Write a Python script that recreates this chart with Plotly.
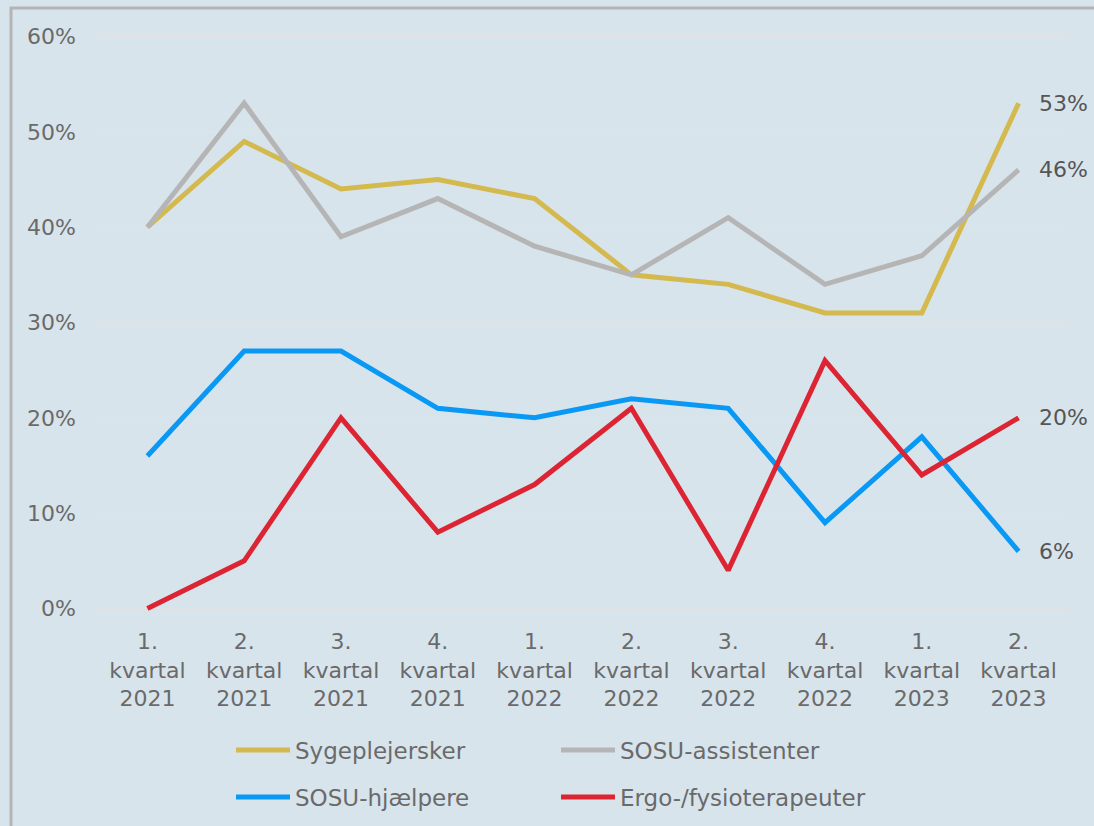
import plotly.graph_objects as go

categories = ["1.<br>kvartal<br>2021", "2.<br>kvartal<br>2021", "3.<br>kvartal<br>2021", "4.<br>kvartal<br>2021",
              "1.<br>kvartal<br>2022", "2.<br>kvartal<br>2022", "3.<br>kvartal<br>2022", "4.<br>kvartal<br>2022",
              "1.<br>kvartal<br>2023", "2.<br>kvartal<br>2023"]
sygeplejersker = [40, 49, 44, 45, 43, 35, 34, 31, 31, 53]
sosu_assistenter = [40, 53, 39, 43, 38, 35, 41, 34, 37, 46]
sosu_hjaelpere = [16, 27, 27, 21, 20, 22, 21, 9, 18, 6]
ergo_fysio = [0, 5, 20, 8, 13, 21, 4, 26, 14, 20]

series = [
    ("Sygeplejersker", sygeplejersker, "#d4b94f", "legend"),
    ("SOSU-assistenter", sosu_assistenter, "#b5b5b5", "legend"),
    ("SOSU-hjælpere", sosu_hjaelpere, "#0a98f5", "legend2"),
    ("Ergo-/fysioterapeuter", ergo_fysio, "#dc2433", "legend2"),
]

FONT = "DejaVu Sans"
TXT = "#6a6a6a"
BG = "#d8e4ec"

fig = go.Figure()
for name, vals, col, lg in series:
    fig.add_trace(go.Scatter(x=categories, y=vals, name=name, mode="lines",
                             line=dict(color=col, width=5), legend=lg))
    fig.add_annotation(x=categories[-1], y=vals[-1], text=f"{vals[-1]}%", showarrow=False,
                       xanchor="left", yanchor="middle", xshift=18,
                       font=dict(family=FONT, size=22, color="#555555"))

fig.update_layout(
    width=1094, height=826,
    paper_bgcolor=BG, plot_bgcolor=BG,
    margin=dict(l=99, r=27, t=27, b=208),
    font=dict(family=FONT, size=22, color=TXT),
    xaxis=dict(range=[-0.5, 9.5], showgrid=False, showline=False, zeroline=False, ticks="",
               tickfont=dict(family=FONT, size=22, color=TXT), ticklabelstandoff=8),
    yaxis=dict(range=[-1, 61], tick0=0, dtick=10, ticksuffix="%", showgrid=True,
               gridcolor="#e2e2e2", gridwidth=1, zeroline=False, showline=False,
               tickfont=dict(family=FONT, size=22, color=TXT), ticklabelstandoff=22),
    legend=dict(orientation="h", xref="container", yref="container", x=231 / 1094, y=1 - 750 / 826,
                xanchor="left", yanchor="middle", itemwidth=54, entrywidth=256,
                font=dict(family=FONT, size=23, color=TXT), bgcolor="rgba(0,0,0,0)"),
    legend2=dict(orientation="h", xref="container", yref="container", x=231 / 1094, y=1 - 797 / 826,
                 xanchor="left", yanchor="middle", itemwidth=54, entrywidth=256,
                 font=dict(family=FONT, size=23, color=TXT), bgcolor="rgba(0,0,0,0)"),
    shapes=[dict(type="rect", xref="paper", yref="paper",
                 x0=(11 - 99) / 968, x1=1.2, y0=-0.6, y1=1 + (27 - 8) / 591,
                 line=dict(color="#b4b4b4", width=3), fillcolor="rgba(0,0,0,0)", layer="below")],
)

fig.write_html("out.html", config={"displayModeBar": False},
               post_script="document.body.style.margin='0';document.body.style.background='#d8e4ec';")
